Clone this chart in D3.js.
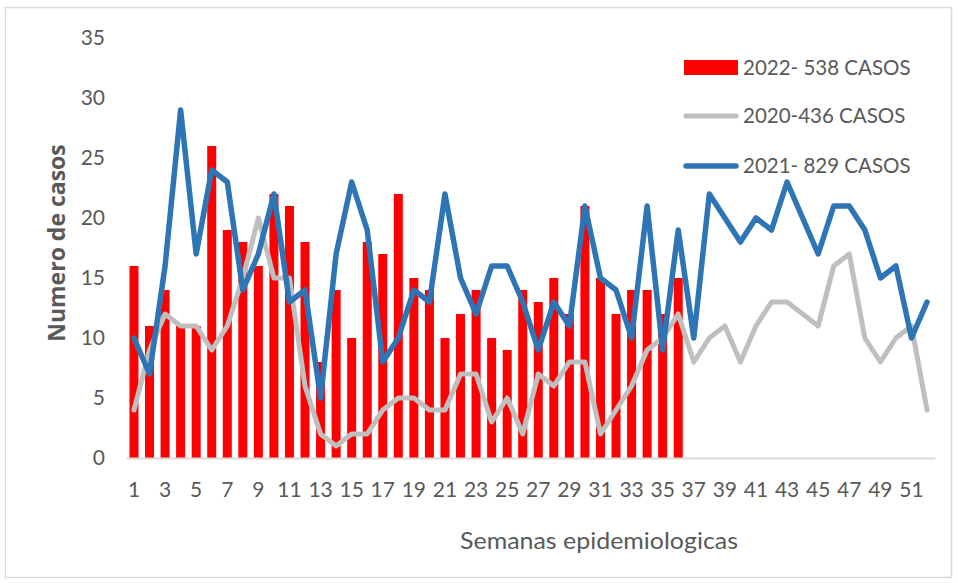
<!DOCTYPE html>
<html>
<head>
<meta charset="utf-8">
<script src="https://cdn.jsdelivr.net/npm/d3@7"></script>
<style>
  html, body { margin: 0; padding: 0; background: #fff; }
  svg { display: block; }
</style>
</head>
<body>
<div id="chart"></div>
<script>
// semanas epidemiologicas 1..52
var weeks = d3.range(1, 53);
var weekTicks = d3.range(1, 53, 2);
var yTicks = [0, 5, 10, 15, 20, 25, 30, 35];

// 2022 (barras), solo hasta la semana 36
var casos2022 = [16, 11, 14, 11, 11, 26, 19, 18, 16, 22,
                 21, 18, 8, 14, 10, 18, 17, 22, 15, 14,
                 10, 12, 14, 10, 9, 14, 13, 15, 12, 21,
                 15, 12, 14, 14, 12, 15];

// 2020 (linea gris)
var casos2020 = [4, 9, 12, 11, 11, 9, 11, 15, 20, 15,
                 15, 6, 2, 1, 2, 2, 4, 5, 5, 4,
                 4, 7, 7, 3, 5, 2, 7, 6, 8, 8,
                 2, 4, 6, 9, 10, 12, 8, 10, 11, 8,
                 11, 13, 13, 12, 11, 16, 17, 10, 8, 10,
                 11, 4];

// 2021 (linea azul)
var casos2021 = [10, 7, 16, 29, 17, 24, 23, 14, 17, 22,
                 13, 14, 5, 17, 23, 19, 8, 10, 14, 13,
                 22, 15, 12, 16, 16, 13, 9, 13, 11, 21,
                 15, 14, 10, 21, 9, 19, 10, 22, 20, 18,
                 20, 19, 23, 20, 17, 21, 21, 19, 15, 16,
                 10, 13];

var legendLabels = ["2022- 538 CASOS", "2020-436 CASOS", "2021- 829 CASOS"];

var W = 958, H = 583;
var textColor = "#595959";
var font = "Lato, 'Open Sans', sans-serif";

var svg = d3.select("#chart")
  .append("svg")
  .attr("width", W)
  .attr("height", H);

// marco del grafico
svg.append("rect")
  .attr("x", 5.5).attr("y", 7.5)
  .attr("width", 946).attr("height", 570)
  .attr("fill", "#fff")
  .attr("stroke", "#d9d9d9")
  .attr("stroke-width", 1.5);

var x = d3.scaleBand()
  .domain(weeks)
  .range([126.2, 934.8])
  .paddingInner(0.42)
  .paddingOuter(0.21);

var y = d3.scaleLinear()
  .domain([0, 35])
  .range([458, 38]);

// bars
svg.append("g")
  .selectAll("rect")
  .data(casos2022)
  .enter()
  .append("rect")
  .attr("x", function(d, i) { return x(weeks[i]); })
  .attr("y", function(d) { return y(d); })
  .attr("width", x.bandwidth())
  .attr("height", function(d) { return y(0) - y(d); })
  .attr("fill", "#ff0000");

// axis x
var xAxis = d3.axisBottom(x)
  .tickValues(weekTicks)
  .tickSize(0)
  .tickPadding(24);

var gx = svg.append("g")
  .attr("transform", "translate(0," + y(0) + ")")
  .call(xAxis);
gx.select(".domain").attr("stroke", "#d9d9d9").attr("stroke-width", 2);
gx.selectAll("text")
  .attr("fill", textColor)
  .style("font-family", font)
  .style("font-size", "21px");

// axis y
var yAxis = d3.axisLeft(y)
  .tickValues(yTicks)
  .tickSize(0)
  .tickPadding(0);

var gy = svg.append("g")
  .attr("transform", "translate(105,0)")
  .call(yAxis);
gy.select(".domain").remove();
gy.selectAll("text")
  .attr("fill", textColor)
  .style("font-family", font)
  .style("font-size", "21px");

var line = function(values) {
  return d3.line()
    .x(function(d, i) { return x(weeks[i]) + x.bandwidth() / 2; })
    .y(function(d) { return y(d); })(values);
};

svg.append("path")
  .attr("d", line(casos2020))
  .attr("fill", "none")
  .attr("stroke", "#bfbfbf")
  .attr("stroke-width", 5)
  .attr("stroke-linejoin", "round")
  .attr("stroke-linecap", "round");

svg.append("path")
  .attr("d", line(casos2021))
  .attr("fill", "none")
  .attr("stroke", "#2e75b6")
  .attr("stroke-width", 5.5)
  .attr("stroke-linejoin", "round")
  .attr("stroke-linecap", "round");

// titles
svg.append("text")
  .attr("x", 599)
  .attr("y", 549)
  .attr("text-anchor", "middle")
  .attr("fill", textColor)
  .attr("textLength", 278)
  .attr("lengthAdjust", "spacingAndGlyphs")
  .style("font-family", font)
  .style("font-size", "24px")
  .text("Semanas epidemiologicas");

svg.append("text")
  .attr("transform", "translate(65,243) rotate(-90)")
  .attr("text-anchor", "middle")
  .attr("fill", textColor)
  .style("font-family", "'Open Sans', sans-serif")
  .style("font-weight", "bold")
  .style("font-size", "23px")
  .text("Numero de casos");

// legend
var lg = svg.append("g");
lg.append("rect")
  .attr("x", 684).attr("y", 60)
  .attr("width", 54).attr("height", 15)
  .attr("fill", "#ff0000");
lg.append("line")
  .attr("x1", 686).attr("x2", 736)
  .attr("y1", 116).attr("y2", 116)
  .attr("stroke", "#bfbfbf").attr("stroke-width", 5)
  .attr("stroke-linecap", "round");
lg.append("line")
  .attr("x1", 686).attr("x2", 736)
  .attr("y1", 166).attr("y2", 166)
  .attr("stroke", "#2e75b6").attr("stroke-width", 5.5)
  .attr("stroke-linecap", "round");

var legendY = [75, 123, 173];
lg.selectAll("text.leg")
  .data(legendLabels)
  .enter()
  .append("text")
  .attr("class", "leg")
  .attr("x", 743)
  .attr("y", function(d, i) { return legendY[i]; })
  .attr("fill", textColor)
  .style("font-family", font)
  .style("font-size", "20.5px")
  .text(function(d) { return d; });
</script>
</body>
</html>
